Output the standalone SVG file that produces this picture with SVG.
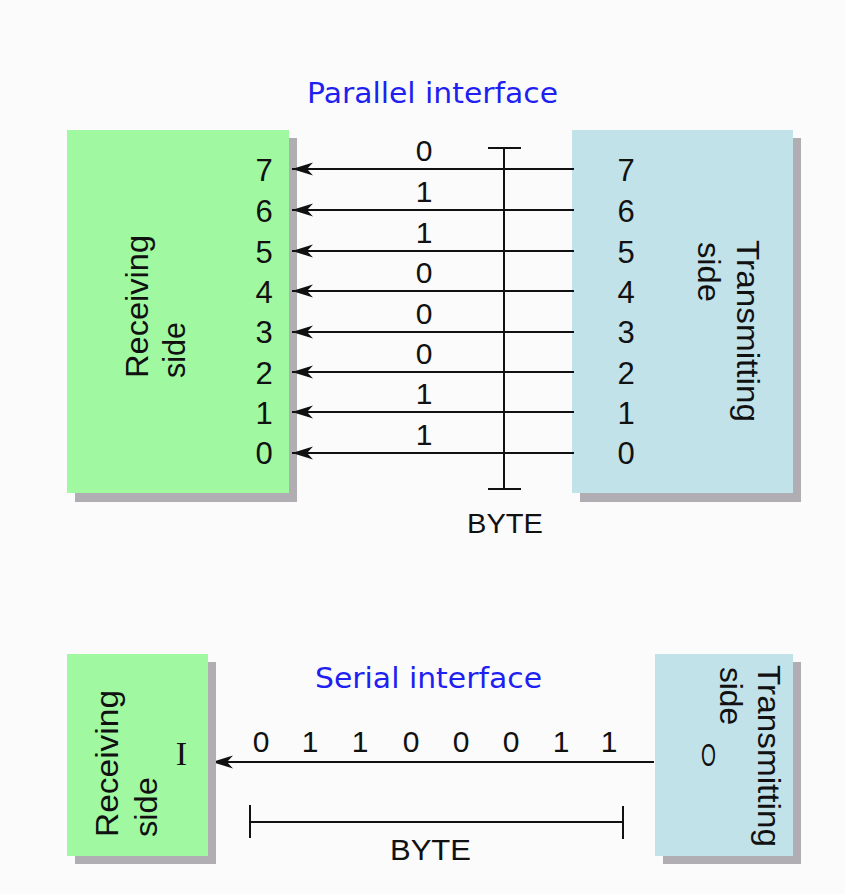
<svg xmlns="http://www.w3.org/2000/svg" width="845" height="894" viewBox="0 0 845 894">
  <style>
    .rx { fill: #a0f9a0; }
    .tx { fill: #c2e2ea; }
    .sh { fill: #b0aeb3; }
    .title { font-family: "DejaVu Sans", "Liberation Sans", sans-serif; font-size: 28px; fill: #1f1ff2; }
    .lbl { font-family: "Liberation Sans", Arial, sans-serif; font-size: 31px; fill: #111; }
    .num { font-family: "Liberation Sans", Arial, sans-serif; font-size: 31px; fill: #111; text-anchor: middle; }
    .bit { font-family: "Liberation Sans", Arial, sans-serif; font-size: 30px; fill: #111; text-anchor: middle; }
    .io { font-family: "Liberation Serif", "Times New Roman", serif; font-size: 34px; fill: #111; text-anchor: middle; }
    .out { font-family: "Liberation Sans", Arial, sans-serif; font-size: 32px; fill: #111; text-anchor: middle; }
    .wire { stroke: #111; stroke-width: 2; fill: none; }
  </style>
  <defs>
    <marker id="head" markerUnits="userSpaceOnUse" markerWidth="24" markerHeight="16" viewBox="-22 -8 24 16" refX="0" refY="0" orient="auto">
      <path d="M0,0 L-21,-6.5 L-15,0 L-21,6.5 Z" fill="#111"/>
    </marker>
  </defs>

  <rect x="0" y="0" width="845" height="894" fill="#fafbfa"/>

  <!-- Parallel interface -->
  <text class="title" x="307" y="103" textLength="251" lengthAdjust="spacingAndGlyphs">Parallel interface</text>

  <g id="par-receiver">
    <rect class="sh" x="75" y="138" width="222" height="364"/>
    <rect class="rx" x="67" y="130" width="222" height="363"/>
    <text class="lbl" transform="translate(148,378) rotate(-90)" textLength="143" lengthAdjust="spacingAndGlyphs">Receiving</text>
    <text class="lbl" transform="translate(185,378) rotate(-90)" textLength="56" lengthAdjust="spacingAndGlyphs">side</text>
    <text class="num" x="264" y="181">7</text>
    <text class="num" x="264" y="222">6</text>
    <text class="num" x="264" y="263">5</text>
    <text class="num" x="264" y="303">4</text>
    <text class="num" x="264" y="343">3</text>
    <text class="num" x="264" y="384">2</text>
    <text class="num" x="264" y="424">1</text>
    <text class="num" x="264" y="464">0</text>
  </g>

  <g id="par-transmitter">
    <rect class="sh" x="580" y="138" width="221" height="364"/>
    <rect class="tx" x="572" y="130" width="221" height="363"/>
    <text class="lbl" transform="translate(737,240) rotate(90)" textLength="182" lengthAdjust="spacingAndGlyphs">Transmitting</text>
    <text class="lbl" transform="translate(698,242) rotate(90)" textLength="60" lengthAdjust="spacingAndGlyphs">side</text>
    <text class="num" x="626" y="181">7</text>
    <text class="num" x="626" y="222">6</text>
    <text class="num" x="626" y="263">5</text>
    <text class="num" x="626" y="303">4</text>
    <text class="num" x="626" y="343">3</text>
    <text class="num" x="626" y="384">2</text>
    <text class="num" x="626" y="424">1</text>
    <text class="num" x="626" y="464">0</text>
  </g>

  <g id="connectors">
    <!-- eight parallel data lines, transmitter to receiver -->
    <line class="wire" x1="574" y1="169" x2="292" y2="169" marker-end="url(#head)"/>
    <line class="wire" x1="574" y1="210" x2="292" y2="210" marker-end="url(#head)"/>
    <line class="wire" x1="574" y1="251" x2="292" y2="251" marker-end="url(#head)"/>
    <line class="wire" x1="574" y1="291" x2="292" y2="291" marker-end="url(#head)"/>
    <line class="wire" x1="574" y1="332" x2="292" y2="332" marker-end="url(#head)"/>
    <line class="wire" x1="574" y1="372" x2="292" y2="372" marker-end="url(#head)"/>
    <line class="wire" x1="574" y1="412" x2="292" y2="412" marker-end="url(#head)"/>
    <line class="wire" x1="574" y1="453" x2="292" y2="453" marker-end="url(#head)"/>
    <!-- single serial line -->
    <line class="wire" x1="654" y1="762" x2="212" y2="762" marker-end="url(#head)"/>
  </g>

  <!-- bit values on the parallel lines -->
  <g id="par-bits">
    <text class="bit" x="424" y="161">0</text>
    <text class="bit" x="424" y="202">1</text>
    <text class="bit" x="424" y="243">1</text>
    <text class="bit" x="424" y="283">0</text>
    <text class="bit" x="424" y="324">0</text>
    <text class="bit" x="424" y="364">0</text>
    <text class="bit" x="424" y="404">1</text>
    <text class="bit" x="424" y="445">1</text>
  </g>

  <!-- byte span, parallel -->
  <g id="par-byte">
    <path class="wire" d="M488,148 H521 M504,148 V489 M488,489 H521"/>
    <text class="lbl" x="467" y="533" style="font-size:28px" textLength="76" lengthAdjust="spacingAndGlyphs">BYTE</text>
  </g>

  <!-- Serial interface -->
  <text class="title" x="315" y="688" textLength="227" lengthAdjust="spacingAndGlyphs">Serial interface</text>

  <g id="ser-receiver">
    <rect class="sh" x="75" y="662" width="141" height="202"/>
    <rect class="rx" x="67" y="654" width="141" height="202"/>
    <text class="lbl" transform="translate(118,837) rotate(-90)" textLength="147" lengthAdjust="spacingAndGlyphs">Receiving</text>
    <text class="lbl" transform="translate(157,837) rotate(-90)" textLength="60" lengthAdjust="spacingAndGlyphs">side</text>
    <text class="io" x="181.5" y="765">I</text>
  </g>

  <g id="ser-transmitter">
    <rect class="sh" x="663" y="662" width="138" height="202"/>
    <rect class="tx" x="655" y="654" width="138" height="202"/>
    <text class="lbl" transform="translate(758,665) rotate(90)" textLength="182" lengthAdjust="spacingAndGlyphs">Transmitting</text>
    <text class="lbl" transform="translate(720,667) rotate(90)" textLength="58" lengthAdjust="spacingAndGlyphs">side</text>
    <!-- narrow output marker -->
    <text class="out" transform="translate(708.5,766) scale(0.6,1)">O</text>
  </g>

  <!-- bit stream on the serial line -->
  <g id="ser-bits">
    <text class="bit" x="261" y="752">0</text>
    <text class="bit" x="310" y="752">1</text>
    <text class="bit" x="360" y="752">1</text>
    <text class="bit" x="411" y="752">0</text>
    <text class="bit" x="461" y="752">0</text>
    <text class="bit" x="511" y="752">0</text>
    <text class="bit" x="561" y="752">1</text>
    <text class="bit" x="609" y="752">1</text>
  </g>

  <!-- byte span, serial -->
  <g id="ser-byte">
    <path class="wire" d="M250,805 V838 M250,822 H623 M623,806 V839"/>
    <text class="lbl" x="390" y="860" style="font-size:30px" textLength="81" lengthAdjust="spacingAndGlyphs">BYTE</text>
  </g>
</svg>
